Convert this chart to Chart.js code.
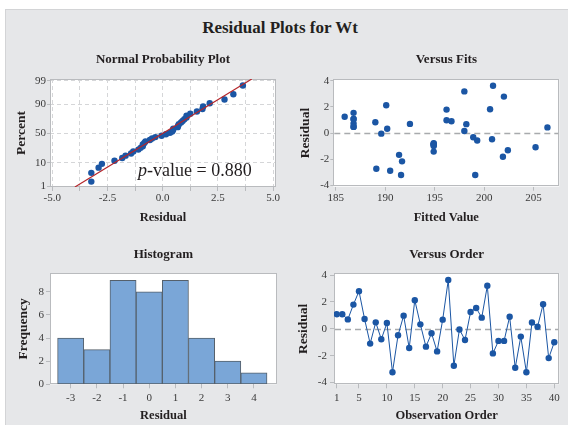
<!DOCTYPE html>
<html>
<head>
<meta charset="utf-8">
<title>Residual Plots for Wt</title>
<script src="https://cdn.jsdelivr.net/npm/chart.js@4.4.1/dist/chart.umd.min.js"></script>
<style>
  html, body { margin: 0; padding: 0; background: #fff; }
  body { width: 568px; height: 425px; position: relative; overflow: hidden; font-family: "Liberation Serif", "Times New Roman", serif; }
  #frame { position: absolute; left: 5px; top: 9px; width: 580px; height: 430px; background: #e6e7e9; border-left: 1px solid #d3d4d6; border-top: 1px solid #d3d4d6; }
  #title { position: absolute; left: 280px; top: 18px; transform: translateX(-50%); font-weight: bold; font-size: 17px; line-height: 20px; color: #231f20; white-space: nowrap; }
  canvas { position: absolute; }
  #pval { position: absolute; left: 138px; top: 161px; font-size: 18px; line-height: 18px; color: #231f20; white-space: nowrap; }
</style>
</head>
<body>
<div id="frame"></div>
<div id="title">Residual Plots for Wt</div>
<canvas id="npp" width="284" height="192" style="left:0;top:40px"></canvas>
<canvas id="fits" width="284" height="192" style="left:284px;top:40px"></canvas>
<canvas id="hist" width="284" height="193" style="left:0;top:232px"></canvas>
<canvas id="order" width="284" height="193" style="left:284px;top:232px"></canvas>
<div id="pval"></div>
<script>
// residuals in observation order
const residuals = [1.08, 1.08, 0.70, 1.80, 2.80, 0.73, -1.10, 0.48, -0.78, 0.43,
  -3.23, -0.48, 0.98, -1.43, 2.13, 0.33, -1.33, -0.33, -1.68, 0.68,
  3.63, -2.75, -0.05, -0.83, 1.25, 1.55, 0.83, 3.20, -1.83, -0.90,
  -0.90, 0.90, -2.90, -0.58, -3.23, 0.47, 0.15, 1.83, -2.18, -1.00];

// fitted values for the same observations (Versus Fits panel)
const fitted = [186.8, 186.8, 192.5, 196.2, 202.0, 186.8, 205.2, 186.8, 194.9, 206.4,
  191.6, 200.8, 196.2, 194.9, 190.1, 190.2, 202.4, 198.9, 191.4, 198.2,
  200.9, 189.1, 189.6, 194.9, 185.9, 186.8, 189.0, 198.0, 201.9, 194.9,
  194.9, 196.7, 190.5, 199.3, 199.1, 186.8, 198.0, 200.6, 191.7, 194.9];

// histogram bins
const binCenters = [-3, -2, -1, 0, 1, 2, 3, 4];
const binCounts = [4, 3, 9, 8, 9, 4, 2, 1];

// tick labels
const pctTicks = [1, 10, 50, 90, 99];
const nppTicks = [-5, -3.75, -2.5, -1.25, 0, 1.25, 2.5, 3.75, 5];
const fitTicks = [185, 190, 195, 200, 205];
const residTicks = [-4, -2, 0, 2, 4];
const freqTicks = [0, 2, 4, 6, 8];
const orderTicks = [1, 5, 10, 15, 20, 25, 30, 35, 40];
const pValue = "0.880";

const serif = "Liberation Serif";
const ink = "#231f20";
const frameColor = "#b9bbbe";
const dotBlue = "#1b56a4";

document.getElementById("pval").innerHTML = "<i>p</i>-value = " + pValue;

// inverse normal cdf (Acklam), used for the probability axis
function probit(p) {
  const a = [-39.69683028665376, 220.9460984245205, -275.9285104469687, 138.357751867269, -30.66479806614716, 2.506628277459239];
  const b = [-54.47609879822406, 161.5858368580409, -155.6989798598866, 66.80131188771972, -13.28068155288572];
  const c = [-0.007784894002430293, -0.3223964580411365, -2.400758277161838, -2.549732539343734, 4.374664141464968, 2.938163982698783];
  const d = [0.007784695709041462, 0.3224671290700398, 2.445134137142996, 3.754408661907416];
  const pl = 0.02425;
  let q, r;
  if (p < pl) {
    q = Math.sqrt(-2 * Math.log(p));
    return (((((c[0] * q + c[1]) * q + c[2]) * q + c[3]) * q + c[4]) * q + c[5]) / ((((d[0] * q + d[1]) * q + d[2]) * q + d[3]) * q + 1);
  }
  if (p > 1 - pl) {
    q = Math.sqrt(-2 * Math.log(1 - p));
    return -(((((c[0] * q + c[1]) * q + c[2]) * q + c[3]) * q + c[4]) * q + c[5]) / ((((d[0] * q + d[1]) * q + d[2]) * q + d[3]) * q + 1);
  }
  q = p - 0.5;
  r = q * q;
  return (((((a[0] * r + a[1]) * r + a[2]) * r + a[3]) * r + a[4]) * r + a[5]) * q / (((((b[0] * r + b[1]) * r + b[2]) * r + b[3]) * r + b[4]) * r + 1);
}

// normal probability plot points (median ranks) and fitted normal line
const n = residuals.length;
const sorted = residuals.slice().sort((p, q) => p - q);
const nppPoints = sorted.map((v, i) => ({ x: v, y: probit((i + 1 - 0.3) / (n + 0.4)) }));
const mean = residuals.reduce((s, v) => s + v, 0) / n;
const sd = Math.sqrt(residuals.reduce((s, v) => s + (v - mean) ** 2, 0) / (n - 1));
const zMin = -2.35, zMax = 2.40;
const fitLine = [zMin, zMax].map((z) => ({ x: mean + sd * z, y: z }));

// white plot area + grey frame
const plotFrame = {
  id: "plotFrame",
  beforeDraw(chart) {
    const { ctx, chartArea: a } = chart;
    ctx.save();
    ctx.fillStyle = "#fff";
    ctx.fillRect(a.left, a.top, a.width, a.height);
    ctx.restore();
  },
  beforeDatasetsDraw(chart) {
    const { ctx, chartArea: a } = chart;
    ctx.save();
    ctx.strokeStyle = frameColor;
    ctx.lineWidth = 1;
    ctx.strokeRect(Math.round(a.left) + 0.5, Math.round(a.top) + 0.5, Math.round(a.width) - 1, Math.round(a.height) - 1);
    ctx.restore();
  },
};

// dashed reference line at residual 0
const zeroLine = {
  id: "zeroLine",
  beforeDatasetsDraw(chart) {
    const { ctx, chartArea: a, scales } = chart;
    const py = Math.round(scales.y.getPixelForValue(0)) + 0.5;
    ctx.save();
    ctx.strokeStyle = "#a8aaad";
    ctx.lineWidth = 1.5;
    ctx.setLineDash([6, 4]);
    ctx.beginPath();
    ctx.moveTo(a.left + 1, py);
    ctx.lineTo(a.right - 1, py);
    ctx.stroke();
    ctx.restore();
  },
};

function axis(o) {
  return {
    type: "linear",
    min: o.min,
    max: o.max,
    offset: false,
    afterBuildTicks: (s) => { s.ticks = o.ticks.map((v) => ({ value: v })); },
    afterFit: (s) => { if (s.isHorizontal()) s.height = o.size; else s.width = o.size; },
    border: { display: false, dash: o.dashed ? [4, 3] : [] },
    grid: {
      offset: false,
      drawOnChartArea: !!o.dashed,
      color: o.dashed ? "#d5d6d8" : frameColor,
      tickColor: frameColor,
      tickLength: o.tickLen,
      tickBorderDash: [],
    },
    ticks: {
      autoSkip: false,
      maxRotation: 0,
      padding: o.pad,
      color: "#3a3a3a",
      font: { family: serif, size: 11 },
      callback: o.fmt || ((v) => v),
    },
    title: {
      display: true,
      text: o.label,
      color: ink,
      font: { family: serif, size: o.titleSize, weight: "bold" },
      padding: o.titlePad,
    },
  };
}

function panelTitle(text, top, bottom) {
  return {
    display: true,
    text: text,
    fullSize: false,
    color: ink,
    font: { family: serif, size: 13, weight: "bold" },
    padding: { top: top, bottom: bottom },
  };
}

const common = {
  responsive: false,
  animation: false,
  events: [],
};

// Normal Probability Plot
new Chart(document.getElementById("npp"), {
  type: "scatter",
  data: {
    datasets: [
      { data: fitLine, showLine: true, borderColor: "#b5262b", borderWidth: 1.2, pointRadius: 0, clip: 0 },
      { data: nppPoints, pointRadius: 3.2, pointBackgroundColor: dotBlue, pointBorderWidth: 0 },
    ],
  },
  options: {
    ...common,
    layout: { padding: { left: 0, right: 8, top: 0, bottom: 0 } },
    plugins: { legend: { display: false }, tooltip: { enabled: false }, title: panelTitle("Normal Probability Plot", 11.5, 11.9) },
    scales: {
      x: axis({ min: -5.1, max: 5.13, ticks: nppTicks, size: 45, tickLen: 4, pad: 1, dashed: true,
        label: "Residual", titleSize: 12.5, titlePad: { top: 0, bottom: 6.5 },
        fmt: (v) => (Math.abs(v / 2.5 - Math.round(v / 2.5)) < 1e-9 ? v.toFixed(1) : "") }),
      y: axis({ min: zMin, max: zMax, ticks: pctTicks.map((p) => probit(p / 100)), size: 50, tickLen: 3, pad: 1, dashed: true,
        label: "Percent", titleSize: 13.5, titlePad: { top: 13.4, bottom: 0 },
        fmt: (v, i) => pctTicks[i] }),
    },
  },
  plugins: [plotFrame],
});

// Versus Fits
new Chart(document.getElementById("fits"), {
  type: "scatter",
  data: {
    datasets: [
      { data: fitted.map((f, i) => ({ x: f, y: residuals[i] })), pointRadius: 3.2, pointBackgroundColor: dotBlue, pointBorderWidth: 0 },
    ],
  },
  options: {
    ...common,
    layout: { padding: { left: 0, right: 8.7, top: 0, bottom: 0 } },
    plugins: { legend: { display: false }, tooltip: { enabled: false }, title: panelTitle("Versus Fits", 11.5, 12.2) },
    scales: {
      x: axis({ min: 184.75, max: 207.6, ticks: fitTicks, size: 45.3, tickLen: 4, pad: 1,
        label: "Fitted Value", titleSize: 12.5, titlePad: { top: 0, bottom: 6.5 } }),
      y: axis({ min: -4.13, max: 4.13, ticks: residTicks, size: 49.3, tickLen: 3, pad: 1,
        label: "Residual", titleSize: 13.5, titlePad: { top: 13.4, bottom: 0 } }),
    },
  },
  plugins: [plotFrame, zeroLine],
});

// Histogram
new Chart(document.getElementById("hist"), {
  type: "bar",
  data: {
    datasets: [
      {
        data: binCenters.map((c, i) => ({ x: c, y: binCounts[i] })),
        backgroundColor: "#7aa6d7",
        borderColor: "#55606b",
        borderWidth: 1,
        borderSkipped: false,
        categoryPercentage: 1,
        barPercentage: 1,
      },
    ],
  },
  options: {
    ...common,
    layout: { padding: { left: 0, right: 7.3, top: 0, bottom: 0 } },
    plugins: { legend: { display: false }, tooltip: { enabled: false }, title: panelTitle("Histogram", 14.7, 11) },
    scales: {
      x: axis({ min: -3.79, max: 4.87, ticks: binCenters, size: 40.7, tickLen: 4, pad: 3,
        label: "Residual", titleSize: 12.5, titlePad: { top: 0, bottom: 2 } }),
      y: axis({ min: 0, max: 9.6, ticks: freqTicks, size: 50, tickLen: 4, pad: 2,
        label: "Frequency", titleSize: 13.5, titlePad: { top: 15.9, bottom: 0 } }),
    },
  },
  plugins: [plotFrame],
});

// Versus Order
new Chart(document.getElementById("order"), {
  type: "scatter",
  data: {
    datasets: [
      {
        data: residuals.map((r, i) => ({ x: i + 1, y: r })),
        showLine: true,
        borderColor: dotBlue,
        borderWidth: 1,
        pointRadius: 3.2,
        pointBackgroundColor: dotBlue,
        pointBorderWidth: 0,
      },
    ],
  },
  options: {
    ...common,
    layout: { padding: { left: 0, right: 8.7, top: 0, bottom: 0 } },
    plugins: { legend: { display: false }, tooltip: { enabled: false }, title: panelTitle("Versus Order", 14.7, 11) },
    scales: {
      x: axis({ min: 0.52, max: 40.9, ticks: orderTicks, size: 40.7, tickLen: 4, pad: 3,
        label: "Observation Order", titleSize: 12.5, titlePad: { top: 0, bottom: 2 } }),
      y: axis({ min: -4.13, max: 4.13, ticks: residTicks, size: 50, tickLen: 4, pad: 3,
        label: "Residual", titleSize: 13.5, titlePad: { top: 11.4, bottom: 0 } }),
    },
  },
  plugins: [plotFrame, zeroLine],
});
</script>
</body>
</html>
